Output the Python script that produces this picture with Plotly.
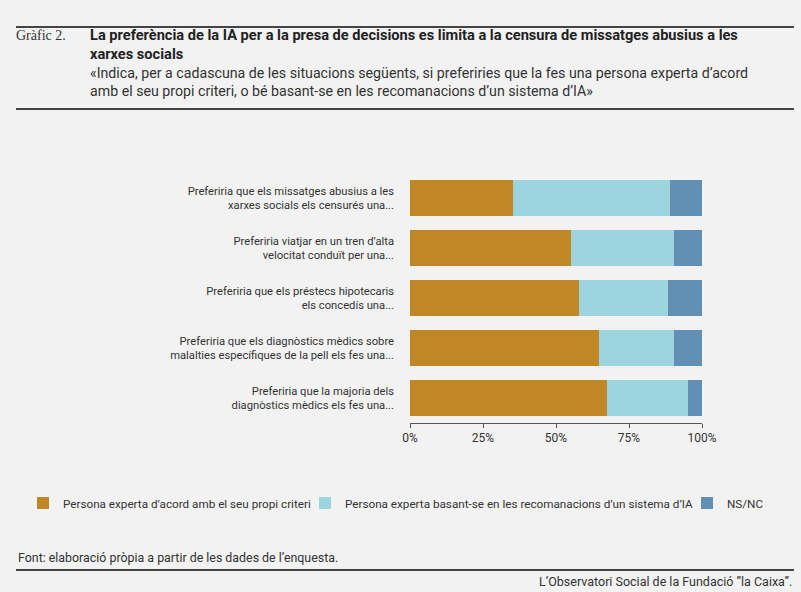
import plotly.graph_objects as go

cats = ["Preferiria que els missatges abusius a les<br>xarxes socials els censurés una...",
        "Preferiria viatjar en un tren d’alta<br>velocitat conduït per una...",
        "Preferiria que els préstecs hipotecaris<br>els concedís una...",
        "Preferiria que els diagnòstics mèdics sobre<br>malalties específiques de la pell els fes una...",
        "Preferiria que la majoria dels<br>diagnòstics mèdics els fes una..."]
experta = [35.4, 55.0, 58.0, 64.6, 67.4]
sistema = [53.6, 35.4, 30.3, 25.8, 27.8]
nsnc = [11.0, 9.6, 11.7, 9.6, 4.8]
names = ["Persona experta d’acord amb el seu propi criteri",
         "Persona experta basant-se en les recomanacions d’un sistema d’IA", "NS/NC"]
colors = ["#c18626", "#9dd5df", "#6290b5"]
ticks = [0, 25, 50, 75, 100]
ticklabels = ["0%", "25%", "50%", "75%", "100%"]
legx = [23, 305, 687]

fig = go.Figure()
lg = ["legend", "legend2", "legend3"]
for vals, n, c, l in zip([experta, sistema, nsnc], names, colors, lg):
    fig.add_bar(y=cats, x=vals, name=n, orientation="h", legend=l,
                marker=dict(color=c, line=dict(width=0)))

bg = "#f2f2f2"
T, B = 173, 169
fig.update_layout(
    width=801, height=592, barmode="stack", bargap=0.28,
    paper_bgcolor=bg, plot_bgcolor=bg,
    font=dict(family="Roboto", size=12, color="#333"),
    margin=dict(l=410, r=99, t=T, b=B),
    xaxis=dict(range=[0, 100], tickvals=ticks, ticktext=ticklabels, showgrid=False,
               ticks="outside", ticklen=4, tickcolor="#555", zeroline=False,
               showline=True, linecolor="#555", automargin=False),
    yaxis=dict(autorange="reversed", showgrid=False, ticks="", ticklabelstandoff=15,
               tickfont=dict(size=11.2), automargin=False),
    showlegend=True,
)
for l, x in zip(lg, legx):
    fig.update_layout({l: dict(orientation="h", xref="container", yref="container", x=x/801,
                               xanchor="left", y=1 - 503/592, yanchor="middle",
                               font=dict(size=11.7), bgcolor="rgba(0,0,0,0)")})
H = 592 - T - B
def py(y):
    return 1 - (y - T) / H
line = dict(color="#444", width=2)
for y in [27, 109, 570]:
    fig.add_shape(type="line", xref="paper", yref="paper", x0=-394/292, x1=1+92/292,
                  y0=py(y), y1=py(y), line=line)
def txt(x, y, t, size=11, **kw):
    fig.add_annotation(xref="paper", yref="paper", x=(x - 410) / 292, y=py(y),
                       text=t, showarrow=False, xanchor="left", yanchor="middle",
                       font=dict(size=size, **kw), align="left")
txt(14, 35, "Gràfic 2.", 14, family="Liberation Serif", color="#333")
txt(88, 44, "<b>La preferència de la IA per a la presa de decisions es limita a la censura de missatges abusius a les<br>xarxes socials</b>", 14.6, color="#222")
txt(88, 82, "«Indica, per a cadascuna de les situacions següents, si preferiries que la fes una persona experta d’acord<br>amb el seu propi criteri, o bé basant-se en les recomanacions d’un sistema d’IA»", 14.2, color="#333")
txt(16, 557, "Font: elaboració pròpia a partir de les dades de l’enquesta.", 12.4, color="#333")
fig.add_annotation(xref="paper", yref="paper", x=1 + 92/292, y=py(581),
                   text="L’Observatori Social de la Fundació ”la Caixa”.", showarrow=False,
                   xanchor="right", yanchor="middle", font=dict(size=12.5, color="#333"))
fig.write_html("out.html", config={"displayModeBar": False},
               post_script="document.body.style.margin='0';")
